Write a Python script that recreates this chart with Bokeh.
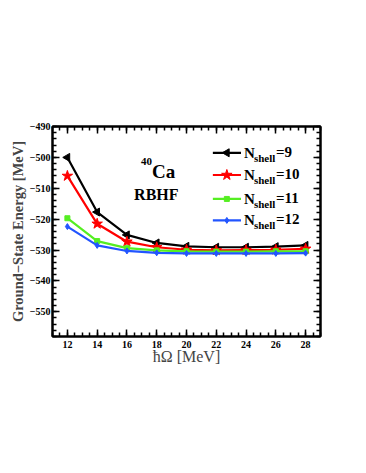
import numpy as np
from bokeh.plotting import figure
from bokeh.models import LinearAxis, SingleIntervalTicker, Range1d
from bokeh.core.properties import value
from bokeh.embed import file_html
from bokeh.resources import INLINE

# ---- data ----
hw = [12, 14, 16, 18, 20, 22, 24, 26, 28]
e_n9 = [-500.0, -517.7, -525.1, -527.7, -528.8, -529.1, -529.1, -528.9, -528.5]
e_n10 = [-506.0, -521.5, -527.3, -529.1, -529.9, -530.1, -530.0, -529.9, -529.6]
e_n11 = [-519.7, -527.1, -529.4, -530.1, -530.4, -530.5, -530.5, -530.4, -530.4]
e_n12 = [-522.4, -528.5, -530.3, -530.9, -531.1, -531.1, -531.1, -531.1, -531.0]
series_labels = ["9", "10", "11", "12"]

SERIF = value("Liberation Serif")

p = figure(width=350, height=440, output_backend="svg", toolbar_location=None,
           x_range=Range1d(11, 29), y_range=Range1d(-558, -489.99),
           min_border_left=52, min_border_right=30, min_border_top=126,
           min_border_bottom=104)
p.background_fill_color = "white"
p.border_fill_color = "white"
p.outline_line_color = "black"
p.outline_line_width = 2
p.xgrid.visible = False
p.ygrid.visible = False

xt = SingleIntervalTicker(interval=2, num_minor_ticks=4)
yt = SingleIntervalTicker(interval=10, num_minor_ticks=5)

def style_axis(ax, labels=True):
    ax.axis_line_color = "black"
    ax.axis_line_width = 2
    ax.major_tick_in = 7
    ax.major_tick_out = 0
    ax.minor_tick_in = 4
    ax.minor_tick_out = 0
    ax.major_tick_line_width = 1.5
    ax.minor_tick_line_width = 1.5
    ax.major_tick_line_color = "black"
    ax.minor_tick_line_color = "black"
    if labels:
        ax.major_label_text_font = "Liberation Serif"
        ax.major_label_text_font_style = "bold"
        ax.major_label_text_font_size = "10px"
        ax.major_label_text_color = "black"
    else:
        ax.major_label_text_font_size = "0px"
        ax.major_label_text_color = None

p.xaxis.ticker = xt
p.yaxis.ticker = yt
style_axis(p.xaxis[0])
style_axis(p.yaxis[0])
p.xaxis.major_label_standoff = 4
p.yaxis.major_label_standoff = 2
p.xaxis.axis_label = "ħΩ [MeV]"
p.xaxis.axis_label_text_font = "Liberation Serif"
p.xaxis.axis_label_text_font_style = "normal"
p.xaxis.axis_label_text_font_size = "16px"
p.xaxis.axis_label_standoff = -3
p.yaxis.axis_label = "Ground−State Energy [MeV]"
p.yaxis.axis_label_text_font = "Liberation Serif"
p.yaxis.axis_label_text_font_style = "bold"
p.yaxis.axis_label_text_font_size = "14.5px"
p.yaxis.axis_label_standoff = 1

top = LinearAxis(ticker=xt)
style_axis(top, labels=False)
p.add_layout(top, "above")
right = LinearAxis(ticker=yt)
style_axis(right, labels=False)
p.add_layout(right, "right")

colors = ["black", "#ff0000", "#55ee22", "#2255ff"]
markers = ["triangle", "star", "square", "diamond"]
msizes = [8, 11, 5, 6]
angles = [np.pi / 2, 0, 0, 0]
all_e = [e_n9, e_n10, e_n11, e_n12]

for e, c, m, s, a in zip(all_e, colors, markers, msizes, angles):
    p.line(hw, e, line_color=c, line_width=2.2)
    p.scatter(hw, e, marker=m, size=s, angle=a, fill_color=c, line_color=c)

# ---- manual legend ----
leg_x0, leg_x1, leg_xm, leg_tx = 21.77, 23.66, 22.71, 23.86
leg_y = [-498.5, -505.7, -513.45, -520.4]
for i, (c, m, s, a, lab) in enumerate(zip(colors, markers, msizes, angles, series_labels)):
    y = leg_y[i]
    p.line([leg_x0, leg_x1], [y, y], line_color=c, line_width=2.2)
    p.scatter([leg_xm], [y], marker=m, size=s, angle=a, fill_color=c, line_color=c)
    p.text([leg_tx], [y], text=["N"], text_font=SERIF, text_font_style="bold",
           text_font_size="15px", text_baseline="alphabetic", text_align="left",
           text_color="black")
    p.text([leg_tx], [y], text=["shell"], x_offset=10, y_offset=5, text_font=SERIF,
           text_font_style="bold", text_font_size="11px", text_baseline="alphabetic",
           text_align="left", text_color="black")
    p.text([leg_tx], [y], text=["=" + lab], x_offset=32, y_offset=-1, text_font=SERIF,
           text_font_style="bold", text_font_size="15px", text_baseline="alphabetic",
           text_align="left", text_color="black")

# ---- annotations ----
p.text([16.95], [-501.33], text=["40"], text_font=SERIF, text_font_style="bold",
       text_font_size="11px", text_baseline="alphabetic", text_align="left",
       text_color="black")
p.text([17.68], [-504.66], text=["Ca"], text_font=SERIF, text_font_style="bold",
       text_font_size="19px", text_baseline="alphabetic", text_align="left",
       text_color="black")
p.text([16.48], [-512.0], text=["RBHF"], text_font=SERIF, text_font_style="bold",
       text_font_size="16px", text_baseline="alphabetic", text_align="left",
       text_color="black")

open("out.html", "w").write(file_html(p, INLINE))
